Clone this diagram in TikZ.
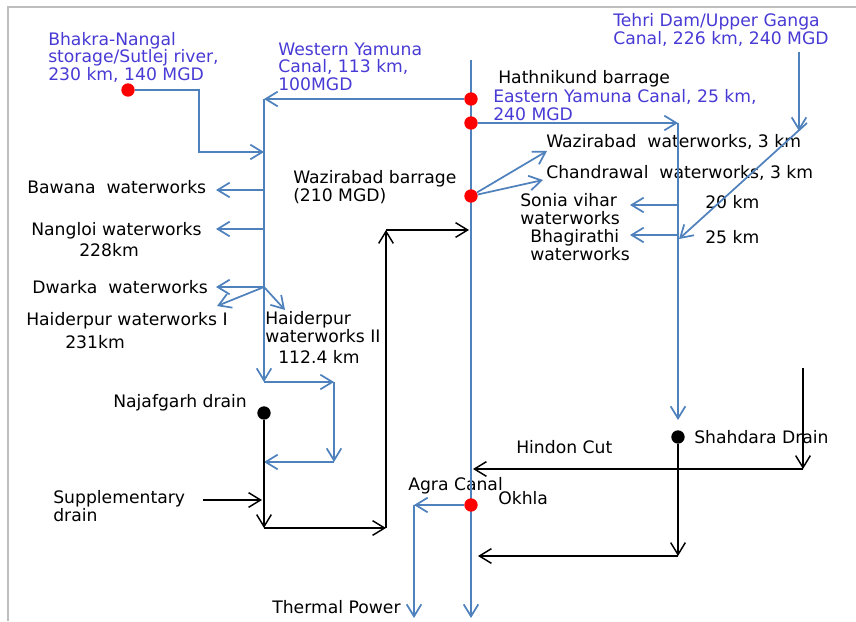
\documentclass[tikz,border=0pt]{standalone}
\usepackage{fontspec}
\setmainfont{DejaVu Sans}
\usetikzlibrary{arrows.meta}
\definecolor{canalblue}{RGB}{79,129,189}
\definecolor{labelblue}{RGB}{72,58,212}
\definecolor{framegray}{RGB}{190,190,190}

\begin{document}
\begin{tikzpicture}[x=0.75pt,y=-0.75pt,>={Straight Barb[length=9pt,width=11pt]},
    every node/.style={inner sep=0pt,font=\fontsize{12.9}{12.8}\selectfont},
    lbl/.style={anchor=base west,align=left},
    src/.style={lbl,text=labelblue},
    canal/.style={draw=canalblue,line width=1.3pt},
    drain/.style={draw=black,line width=1.1pt},
    reddot/.style={circle,fill=red,minimum size=10pt},
    blkdot/.style={circle,fill=black,minimum size=10pt}]
      \useasboundingbox (0,0) rectangle (856,621);
      \draw[framegray,line width=1.5pt] (8,621) -- (8,7) -- (856,7);

      % labels (multi-line ones sit on the baseline of their last line)
      \node[src] (bhakra) at (48,80) {Bhakra-Nangal\\storage/Sutlej river,\\230 km, 140 MGD};
      \node[src] (wyc) at (278,90) {Western Yamuna\\Canal, 113 km,\\100MGD};
      \node[lbl] (hathnikund) at (498,83) {Hathnikund barrage};
      \node[src] (eyc) at (493,120) {Eastern Yamuna Canal, 25 km,\\240 MGD};
      \node[src] (tehri) at (613,44) {Tehri Dam/Upper Ganga\\Canal, 226 km, 240 MGD};
      \node[lbl] (wazbarrage) at (293,201) {Wazirabad barrage\\(210 MGD)};
      \node[lbl] (wazww) at (546,147) {Wazirabad\ \ waterworks, 3 km};
      \node[lbl] (chandrawal) at (546,178) {Chandrawal\ \ waterworks, 3 km};
      \node[lbl] (sonia) at (520,224) {Sonia vihar\\waterworks};
      \node[lbl] (bhagirathi) at (530,260) {Bhagirathi\\waterworks};
      \node[lbl] (km20) at (705,208) {20 km};
      \node[lbl] (km25) at (705,243) {25 km};
      \node[lbl] (bawana) at (27,193) {Bawana\ \ waterworks};
      \node[lbl] (nangloi) at (31,235) {Nangloi waterworks};
      \node[lbl] (nangloikm) at (79,256) {228km};
      \node[lbl] (dwarka) at (32,293) {Dwarka\ \ waterworks};
      \node[lbl] (haidI) at (26,325) {Haiderpur waterworks I};
      \node[lbl] (haidIkm) at (65,348) {231km};
      \node[lbl] (haidII) at (265,342) {Haiderpur\\waterworks II};
      \node[lbl] (haidIIkm) at (278,363) {112.4 km};
      \node[lbl] (najafgarh) at (113,407) {Najafgarh drain};
      \node[lbl] (supp) at (53,521) {Supplementary\\drain};
      \node[lbl] (thermal) at (272,613) {Thermal Power};
      \node[lbl] (agra) at (408,490) {Agra Canal};
      \node[lbl] (okhla) at (498,504) {Okhla};
      \node[lbl] (hindon) at (516,453) {Hindon Cut};
      \node[lbl] (shahdara) at (694,443) {Shahdara Drain};

      % river Yamuna
      \coordinate (ytop) at (471,60);
      \coordinate (ybot) at (471,618);
      \draw[canal,->] (ytop) -- (ybot);
      \node[reddot] (dhath) at (471,99) {};
      \node[reddot] (deyc) at (471,123) {};
      \node[reddot] (dwaz) at (471,196) {};
      \node[reddot] (dokhla) at (471,505) {};
      \node[reddot] (dbhakra) at (128,90) {};
      \node[blkdot] (dnajaf) at (264,413) {};
      \node[blkdot] (dshah) at (678,437) {};

      % western side
      \coordinate (wj) at (264,99);
      \coordinate (wbot) at (264,382);
      \coordinate (bk1) at (199,90);
      \coordinate (bk2) at (199,152);
      \coordinate (bkj) at (264,152);
      \coordinate (bawj) at (264,190);
      \coordinate (bawt) at (216,190);
      \coordinate (nanj) at (264,229);
      \coordinate (nant) at (216,229);
      \coordinate (dwj) at (264,287);
      \coordinate (dwt) at (216,287);
      \coordinate (hIt) at (217,306);
      \coordinate (hIIt) at (285,310);
      \coordinate (wr) at (334,382);
      \coordinate (wd) at (334,462);
      \coordinate (wl) at (264,462);

      \draw[canal,->] (dhath) -- (wj);
      \draw[canal,->] (wj) -- (wbot);
      \draw[canal,->] (dbhakra) -- (bk1) -- (bk2) -- (bkj);
      \draw[canal,->] (bawj) -- (bawt);
      \draw[canal,->] (nanj) -- (nant);
      \draw[canal,->] (dwj) -- (dwt);
      \draw[canal,->] (dwj) -- (hIt);
      \draw[canal,->] (dwj) -- (hIIt);
      \draw[canal,->] (wbot) -- (wr);
      \draw[canal,->] (wr) -- (wd);
      \draw[canal,->] (wd) -- (wl);

      % drains to the west
      \coordinate (nbot) at (264,528);
      \coordinate (sst) at (203,500);
      \coordinate (ssj) at (262,500);
      \coordinate (nr) at (386,528);
      \coordinate (nup) at (386,230);
      \coordinate (nin) at (469,230);
      \draw[drain,->] (dnajaf) -- (nbot);
      \draw[drain,->] (sst) -- (ssj);
      \draw[drain,->] (nbot) -- (nr);
      \draw[drain,->] (nr) -- (nup);
      \draw[drain,->] (nup) -- (nin);

      % eastern side
      \coordinate (ej) at (678,123);
      \coordinate (ebot) at (678,420);
      \coordinate (sj) at (678,205);
      \coordinate (st) at (630,205);
      \coordinate (bj) at (678,235);
      \coordinate (bt) at (630,235);
      \coordinate (ttop) at (799,52);
      \coordinate (tj) at (799,131);
      \coordinate (dstart) at (807,123);
      \coordinate (dend) at (679,239);
      \coordinate (wwt) at (547,151);
      \coordinate (cwt) at (543,180);

      \draw[canal,->] (deyc) -- (ej);
      \draw[canal,->] (ej) -- (ebot);
      \draw[canal,->] (sj) -- (st);
      \draw[canal,->] (bj) -- (bt);
      \draw[canal,->] (ttop) -- (tj);
      \draw[canal,->] (dstart) -- (dend);
      \draw[canal,->] (dwaz) -- (wwt);
      \draw[canal,->] (dwaz) -- (cwt);

      % drains to the east
      \coordinate (sbot) at (678,556);
      \coordinate (sl) at (478,556);
      \coordinate (htop) at (803,368);
      \coordinate (hj) at (803,469);
      \coordinate (hl) at (473,469);
      \draw[drain,->] (dshah) -- (sbot);
      \draw[drain,->] (sbot) -- (sl);
      \draw[drain,->] (htop) -- (hj);
      \draw[drain,->] (hj) -- (hl);

      % Agra canal
      \coordinate (aj) at (414,505);
      \coordinate (abot) at (414,618);
      \draw[canal,->] (dokhla) -- (aj);
      \draw[canal,->] (aj) -- (abot);
    \end{tikzpicture}
\end{document}
